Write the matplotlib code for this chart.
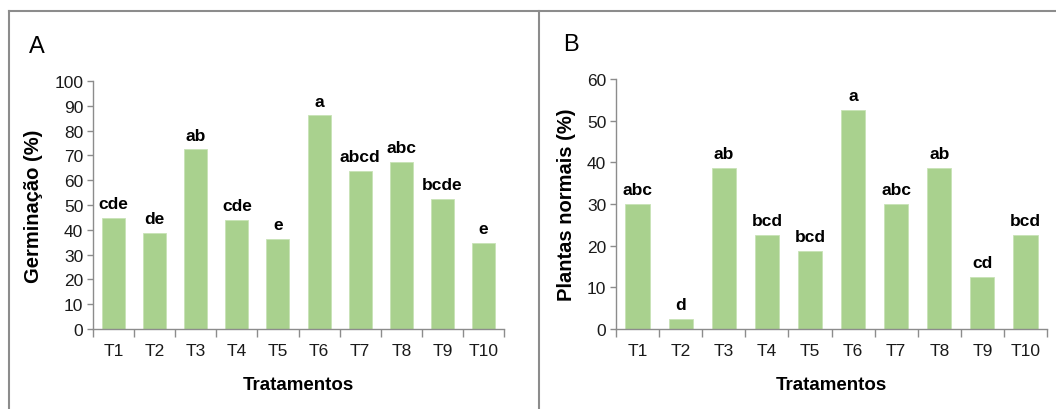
import numpy as np
import matplotlib.pyplot as plt
from matplotlib.lines import Line2D

plt.rcParams['font.family'] = ['Liberation Sans', 'DejaVu Sans']

# =========
# data

tratamentos = ["T1", "T2", "T3", "T4", "T5", "T6", "T7", "T8", "T9", "T10"]

germinacao = [44.8, 38.6, 72.4, 43.8, 36.3, 86.1, 63.6, 67.5, 52.4, 34.7]
letras_germ = ["cde", "de", "ab", "cde", "e", "a", "abcd", "abc", "bcde", "e"]

plantas_normais = [30, 2.5, 38.75, 22.5, 18.75, 52.5, 30, 38.75, 12.5, 22.5]
letras_pn = ["abc", "d", "ab", "bcd", "bcd", "a", "abc", "ab", "cd", "bcd"]

bar_color = "#a9d18e"
grey = "#8c8c8c"

# =========
# figure

fig = plt.figure(figsize=(10.56, 4.10), dpi=100)

W, H = 1056, 410
axA = fig.add_axes([93 / W, 1 - 330 / H, (504 - 93) / W, (330 - 82) / H])
axB = fig.add_axes([616 / W, 1 - 330 / H, (1047 - 616) / W, (330 - 80) / H])


def draw_panel(ax, values, letters, ymax, ystep, ylabel, panel, panel_xy):
    x = np.arange(len(tratamentos))
    ax.bar(x, values, width=0.56, color=bar_color, edgecolor="#c8e3b6", linewidth=0.6, zorder=2)
    for xi, v, t in zip(x, values, letters):
        ax.annotate(t, (xi, v), xytext=(0, 5), textcoords="offset points",
                    ha="center", va="bottom", fontsize=12.5, fontweight="bold")
    ax.set_xlim(-0.5, len(tratamentos) - 0.5)
    ax.set_ylim(0, ymax)
    ax.set_yticks(np.arange(0, ymax + 1, ystep))
    ax.set_xticks(x)
    ax.set_xticklabels(tratamentos)
    ax.set_xticks(np.arange(-0.5, len(tratamentos)), minor=True)
    ax.tick_params(axis="x", which="major", length=0, pad=10, labelsize=12.5, colors="#1a1a1a")
    ax.tick_params(axis="x", which="minor", length=6, width=1, color=grey)
    ax.tick_params(axis="y", length=4, width=1, color=grey, labelsize=12.5, labelcolor="#1a1a1a", pad=3)
    for s in ["top", "right"]:
        ax.spines[s].set_visible(False)
    for s in ["left", "bottom"]:
        ax.spines[s].set_color(grey)
        ax.spines[s].set_linewidth(1)
    ax.set_ylabel(ylabel, fontsize=14.5, fontweight="bold", labelpad=8)
    ax.set_xlabel("Tratamentos", fontsize=13.5, fontweight="bold", labelpad=13)
    fig.text(panel_xy[0] / W, 1 - panel_xy[1] / H, panel, fontsize=17, ha="left", va="center")


draw_panel(axA, germinacao, letras_germ, 100, 10, "Germinação (%)", "A", (29, 47))
draw_panel(axB, plantas_normais, letras_pn, 60, 10, "Plantas normais (%)", "B", (563, 45))

# frame lines round the panels
top = 1 - 12 / H
fig.add_artist(Line2D([9 / W, 1], [top, top], color=grey, lw=1.5, transform=fig.transFigure))
fig.add_artist(Line2D([9 / W, 9 / W], [0, top], color=grey, lw=1.5, transform=fig.transFigure))
fig.add_artist(Line2D([539 / W, 539 / W], [0, top], color=grey, lw=1.5, transform=fig.transFigure))

fig.savefig("out.png", dpi=100)
